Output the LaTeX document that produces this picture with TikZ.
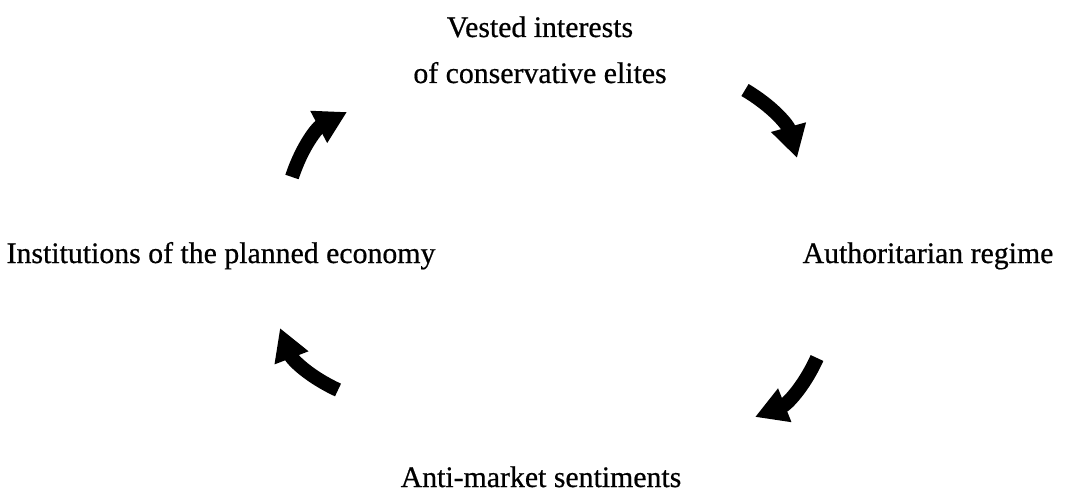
\documentclass[tikz,border=0pt]{standalone}
\usepackage{fontspec}
\setmainfont{Liberation Serif}[FakeBold=0.6]
\usetikzlibrary{arrows.meta}
\tikzset{lbl/.style={anchor=base,inner sep=0pt,font=\fontsize{14.9}{16}\selectfont},
  cyc/.style={line width=7pt,-{Triangle[length=16pt,width=17pt]},bend left=22}}

\begin{document}
\begin{tikzpicture}[x=.5pt,y=.5pt]
      \useasboundingbox (0,0) rectangle (1079,493);
      \node[lbl] (vested) at (540,456) {Vested interests};
      \node[lbl] (elites) at (540,410) {of conservative elites};
      \node[lbl] (regime) at (928,230) {Authoritarian regime};
      \node[lbl] (anti) at (541,6) {Anti-market sentiments};
      \node[lbl] (plan) at (221,230) {Institutions of the planned economy};
      % the four arrows of the cycle
      \coordinate (a1s) at (745,403); \coordinate (a1e) at (797,335);
      \coordinate (a2s) at (817,135); \coordinate (a2e) at (755,76);
      \coordinate (a3s) at (338,103); \coordinate (a3e) at (280,165);
      \coordinate (a4s) at (292,316); \coordinate (a4e) at (347,381);
      \draw[cyc] (a1s) to (a1e);
      \draw[cyc] (a2s) to (a2e);
      \draw[cyc] (a3s) to (a3e);
      \draw[cyc] (a4s) to (a4e);
\end{tikzpicture}
\end{document}
